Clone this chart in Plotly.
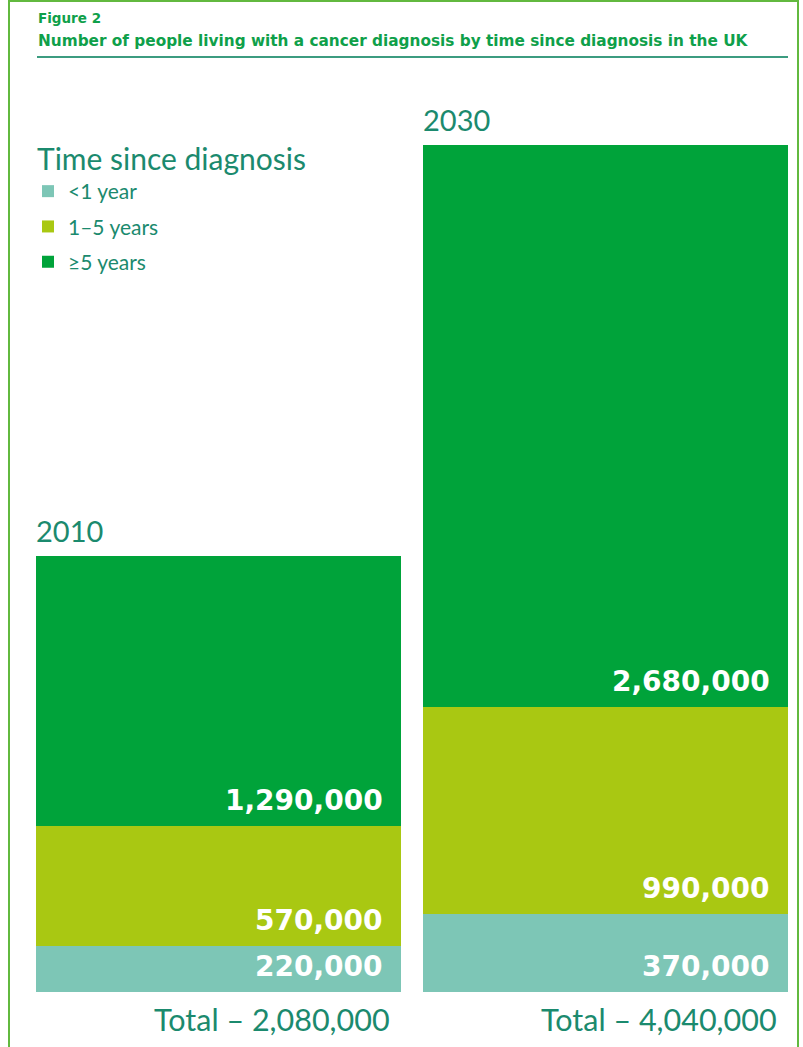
import plotly.graph_objects as go

years = ["2010", "2030"]
lt1 = [220000, 370000]
y1_5 = [570000, 990000]
ge5 = [1290000, 2680000]
totals = [2080000, 4040000]
series_names = ["<1 year", "1–5 years", "≥5 years"]
colors = ["#7DC6B6", "#A9C812", "#00A33A"]
series = [lt1, y1_5, ge5]

W, H = 803, 1047
L, R, T, B = 36, 15, 145, 55
pw, ph = W - L - R, H - T - B
BAR_W = 0.943
TEXT = "#1B8A6E"

def px(x):
    return (x - L) / pw

def py(y):
    return (H - B - y) / ph

fig = go.Figure()
for name, vals, c in zip(series_names, series, colors):
    fig.add_trace(go.Bar(
        x=years, y=vals, name=name, marker=dict(color=c, line=dict(width=0)),
        width=BAR_W, legendgroup=name, hoverinfo="skip",
    ))

ann = []
for i, yr in enumerate(years):
    base = 0
    for vals in series:
        ann.append(dict(x=i + BAR_W / 2, y=base, xref="x", yref="y", xanchor="right", yanchor="bottom",
                        xshift=-16, yshift=7, showarrow=False, text=f"{vals[i]:,}",
                        font=dict(family="DejaVu Sans", size=28, color="white", weight=900)))
        base += vals[i]
    ann.append(dict(x=i - BAR_W / 2, y=totals[i], xref="x", yref="y", xanchor="left", yanchor="bottom",
                    xshift=-2, yshift=6, showarrow=False, text=yr,
                    font=dict(family="Lato", size=29, color=TEXT)))
    ann.append(dict(x=i + BAR_W / 2, y=0, xref="x", yref="y", xanchor="right", yanchor="top",
                    xshift=-9, yshift=-7, showarrow=False, text=f"Total – {totals[i]:,}",
                    font=dict(family="Lato", size=30.5, color=TEXT)))

ann.append(dict(x=px(36), y=py(18), xref="paper", yref="paper", xanchor="left", yanchor="middle",
                showarrow=False, text="<b>Figure 2</b>",
                font=dict(family="DejaVu Sans", size=13.5, color="#0FA04A")))
ann.append(dict(x=px(36), y=py(41), xref="paper", yref="paper", xanchor="left", yanchor="middle",
                showarrow=False,
                text="<b>Number of people living with a cancer diagnosis by time since diagnosis in the UK</b>",
                font=dict(family="DejaVu Sans", size=15.3, color="#0FA04A")))
ann.append(dict(x=px(35), y=py(158), xref="paper", yref="paper", xanchor="left", yanchor="middle",
                showarrow=False, text="Time since diagnosis",
                font=dict(family="Lato", size=30, color=TEXT)))

shapes = [
    dict(type="line", xref="paper", yref="paper", x0=px(37), x1=px(788), y0=py(57), y1=py(57),
         line=dict(color="#3C9C80", width=2)),
    dict(type="rect", xref="paper", yref="paper", x0=px(9), x1=px(798), y0=py(1), y1=py(1060),
         line=dict(color="#62B93F", width=2)),
]

fig.update_layout(
    width=W, height=H, barmode="stack", bargap=0,
    margin=dict(l=L, r=R, t=T, b=B),
    paper_bgcolor="white", plot_bgcolor="white",
    xaxis=dict(range=[-BAR_W / 2, 1 + BAR_W / 2], showticklabels=False, showgrid=False,
               zeroline=False, showline=False, ticks=""),
    yaxis=dict(range=[0, max(totals)], showticklabels=False, showgrid=False,
               zeroline=False, showline=False, ticks=""),
    showlegend=True,
    legend=dict(x=px(28), y=py(171), xanchor="left", yanchor="top", traceorder="grouped",
                tracegroupgap=5, bgcolor="rgba(0,0,0,0)",
                font=dict(family="Lato", size=21, color=TEXT)),
    annotations=ann, shapes=shapes,
    font=dict(family="Lato"),
)

fig.write_html("out.html", config={"displayModeBar": False},
               post_script="document.body.style.margin='0';")
